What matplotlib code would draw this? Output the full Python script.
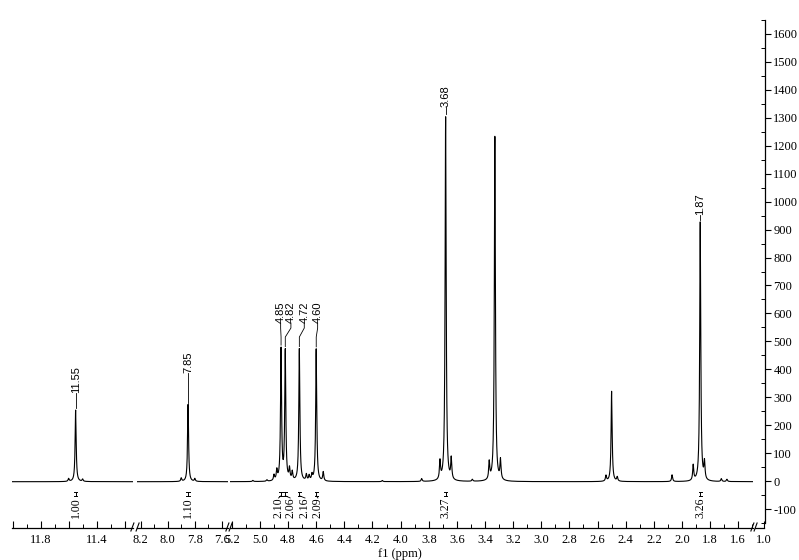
import numpy as np
import matplotlib
matplotlib.use("Agg")
import matplotlib.pyplot as plt

# ---------------- data ----------------
# peaks: position (ppm), height (a.u.)
peak_ppm = [11.60, 11.55, 11.50,
            7.90, 7.85, 7.80,
            5.05, 4.95, 4.90, 4.88, 4.85, 4.82, 4.79, 4.77, 4.72, 4.67, 4.65, 4.63, 4.60, 4.55,
            4.13, 3.85, 3.72, 3.68, 3.64, 3.49, 3.37, 3.33, 3.29,
            2.54, 2.50, 2.46, 2.07, 1.92, 1.87, 1.84, 1.72, 1.68]
peak_height = [10, 255, 8,
               12, 275, 10,
               4, 5, 20, 35, 468, 462, 40, 30, 472, 22, 18, 20, 472, 32,
               4, 10, 65, 1300, 75, 7, 62, 1230, 70,
               20, 322, 15, 24, 55, 925, 62, 10, 8]
peak_hwhm = 0.0045

# labelled peaks (ppm label text)
label_ppm = [11.55, 7.85, 4.85, 4.82, 4.72, 4.60, 3.68, 1.87]
label_text = ["11.55", "7.85", "4.85", "4.82", "4.72", "4.60", "3.68", "1.87"]
label_text_ppm = [11.55, 7.85, 4.853, 4.780, 4.685, 4.590, 3.68, 1.87]
label_text_y = [316, 386, 565, 565, 565, 565, 1334, 948]

# integrals
integral_ppm = [11.55, 7.85, 4.85, 4.82, 4.72, 4.60, 3.68, 1.87]
integral_text_ppm = [11.55, 7.85, 4.868, 4.785, 4.680, 4.588, 3.68, 1.87]
integral_value = ["1.00", "1.10", "2.10", "2.06", "2.16", "2.09", "3.27", "3.26"]

# broken x axis segments (ppm limits, left -> right)
seg_lims = [(12.005, 11.14), (8.226, 7.556), (5.213, 1.495), (1.06, 1.0)]
seg_major = [[12.0, 11.8, 11.6, 11.4, 11.2],
             [8.2, 8.0, 7.8, 7.6],
             [5.2, 5.0, 4.8, 4.6, 4.4, 4.2, 4.0, 3.8, 3.6, 3.4, 3.2, 3.0, 2.8,
              2.6, 2.4, 2.2, 2.0, 1.8, 1.6],
             [1.0]]
seg_labels = [["", "11.8", "", "11.4", ""],
              ["8.2", "8.0", "7.8", "7.6"],
              ["5.2", "5.0", "4.8", "4.6", "4.4", "4.2", "4.0", "3.8", "3.6", "3.4",
               "3.2", "3.0", "2.8", "2.6", "2.4", "2.2", "2.0", "1.8", "1.6"],
              ["1.0"]]

y_major = list(range(-100, 1700, 100))

# ---------------- layout ----------------
W, H = 799, 560
fig = plt.figure(figsize=(W / 100, H / 100), dpi=100)
SERIF = ["Liberation Serif", "DejaVu Serif"]
SANS = ["Liberation Sans", "DejaVu Sans"]

seg_px = [(12, 133), (137, 228), (230, 753), (755, 764)]
top_px, bot_px = 12, 528
y_per_px = 1 / 0.2809
y0_px = 481.7
ylo = -(bot_px - y0_px) * y_per_px
yhi = (y0_px - top_px) * y_per_px


def fx(p):
    return p / W


def fy(p):
    return 1 - p / H


axes = []
for (l, r), (a, b) in zip(seg_px, seg_lims):
    ax = fig.add_axes([fx(l), fy(bot_px), (r - l) / W, (bot_px - top_px) / H])
    ax.set_xlim(a, b)
    ax.set_ylim(ylo, yhi)
    ax.patch.set_visible(False)
    for s in ("top", "left", "right"):
        ax.spines[s].set_visible(False)
    ax.spines["bottom"].set_linewidth(0.9)
    ax.set_yticks([])
    axes.append(ax)

# spectrum
ppm_arr = np.array(peak_ppm)
h_arr = np.array(peak_height)
for ax, (a, b) in zip(axes[:3], seg_lims[:3]):
    x = np.linspace(b, a, int((a - b) / 0.0004) + 1)
    y = np.zeros_like(x)
    for p0, h0 in zip(ppm_arr, h_arr):
        y += h0 / (1 + ((x - p0) / peak_hwhm) ** 2)
    ax.plot(x, y, color="black", lw=0.8)

# ticks
for ax, maj, lab, (a, b) in zip(axes, seg_major, seg_labels, seg_lims):
    ax.set_xticks(maj)
    ax.set_xticklabels(lab, fontsize=9, family=SERIF)
    lo, hi = min(a, b), max(a, b)
    minor = [round(v, 2) for v in np.arange(np.ceil(lo * 10) / 10, hi + 1e-9, 0.1)
             if round(v, 2) not in maj]
    ax.set_xticks(minor, minor=True)
    ax.tick_params(axis="x", which="major", direction="in", length=5, width=0.8, pad=4)
    ax.tick_params(axis="x", which="minor", direction="in", length=3, width=0.7)

# break marks
for i, ax in enumerate(axes):
    kw = dict(transform=ax.transAxes, color="black", lw=0.8, clip_on=False)
    dx = 3.0 / ((seg_px[i][1] - seg_px[i][0]))
    dy = 5.0 / (bot_px - top_px)
    if i > 0:
        ax.plot([-dx * 0.3, dx * 0.7], [-dy * 0.6, dy], **kw)
    if i < len(axes) - 1:
        ax.plot([1 - dx * 0.7, 1 + dx * 0.3], [-dy * 0.6, dy], **kw)

# peak labels
seg_of = lambda p: next(i for i, (a, b) in enumerate(seg_lims) if b <= p <= a)
for pk, txt, tx, ty in zip(label_ppm, label_text, label_text_ppm, label_text_y):
    ax = axes[seg_of(pk)]
    h_top = float(np.sum(h_arr / (1 + ((pk - ppm_arr) / peak_hwhm) ** 2)))
    ax.text(tx, ty, txt, rotation=90, ha="center", va="bottom", fontsize=8,
            family=SANS)
    if abs(tx - pk) < 1e-6:
        ax.plot([pk, pk], [h_top + 6, ty], color="black", lw=0.6)
    else:
        ax.plot([tx, tx, pk, pk], [ty, ty - 18, ty - 50, h_top + 6],
                color="black", lw=0.6)

# integrals
for pk, tx, val in zip(integral_ppm, integral_text_ppm, integral_value):
    ax = axes[seg_of(pk)]
    w = 0.012
    ax.plot([pk - w, pk + w], [-35, -35], color="black", lw=0.7)
    ax.plot([pk - w, pk + w], [-50, -50], color="black", lw=0.7)
    ax.plot([pk, pk], [-35, -50], color="black", lw=0.7)
    if abs(tx - pk) > 1e-6:
        ax.plot([pk, tx], [-50, -58], color="black", lw=0.6)
    ax.text(tx, -56, val, rotation=90, ha="center", va="top", fontsize=8.5,
            family=SERIF)

# y axis on the right
ay_top, ay_bot = 20, 523
ay = fig.add_axes([fx(12), fy(ay_bot), (765 - 12) / W, (ay_bot - ay_top) / H])
ay.patch.set_visible(False)
for s in ("top", "left", "bottom"):
    ay.spines[s].set_visible(False)
ay.spines["right"].set_linewidth(0.9)
ay.set_ylim(-(ay_bot - y0_px) * y_per_px, (y0_px - ay_top) * y_per_px)
ay.set_xticks([])
ay.yaxis.tick_right()
ay.set_yticks(y_major)
ay.set_yticklabels([str(v) for v in y_major], fontsize=9, family=SERIF)
ay.set_yticks(list(range(-150, 1700, 100)), minor=True)
ay.tick_params(axis="y", which="major", direction="out", length=4, width=0.8, pad=2)
ay.tick_params(axis="y", which="minor", direction="in", length=3, width=0.7)

fig.text(fx(400), fy(553.5), "f1 (ppm)", ha="center", va="center", fontsize=9,
         family=SERIF)

fig.savefig("out.png", dpi=100)
